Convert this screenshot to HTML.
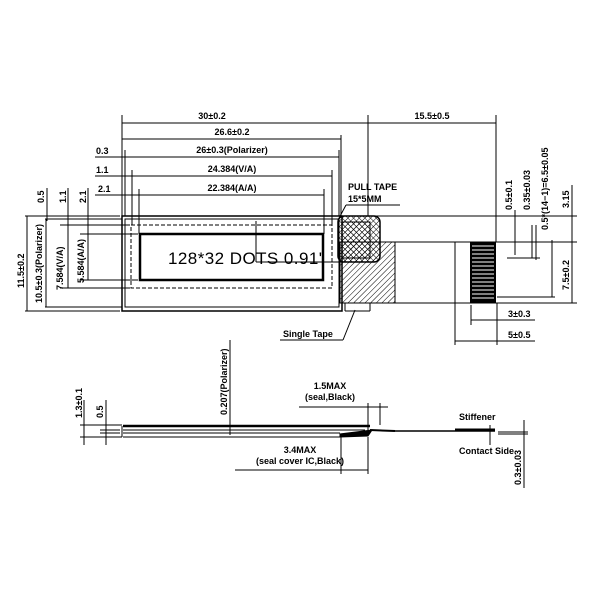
<!DOCTYPE html>
<html><head><style>body{margin:0;background:#fff}svg{display:block}text{font-family:"Liberation Sans",sans-serif;font-weight:bold;fill:#000}</style></head><body>
<svg width="600" height="600" viewBox="0 0 600 600" xmlns="http://www.w3.org/2000/svg">
<defs>
<pattern id="h1" width="4" height="4" patternUnits="userSpaceOnUse" patternTransform="rotate(45)"><line x1="0" y1="0" x2="0" y2="4" stroke="#000" stroke-width="1"/></pattern>
<pattern id="hx" width="4" height="4" patternUnits="userSpaceOnUse" patternTransform="rotate(45)"><path d="M0 0V4M0 0H4" stroke="#000" stroke-width="1"/></pattern>
</defs>
<g stroke="#000" fill="none" stroke-width="1">
<line x1="122" y1="123" x2="496" y2="123"/>
<line x1="122" y1="115" x2="122" y2="216"/><line x1="368" y1="115" x2="368" y2="216"/><line x1="496" y1="115" x2="496" y2="242"/>
<line x1="122" y1="139" x2="341" y2="139"/><line x1="341" y1="135" x2="341" y2="216"/>
<line x1="95" y1="157" x2="339" y2="157"/><line x1="125" y1="150" x2="125" y2="216"/><line x1="339" y1="150" x2="339" y2="216"/>
<line x1="95" y1="176" x2="332" y2="176"/><line x1="132" y1="170" x2="132" y2="225"/><line x1="332" y1="170" x2="332" y2="225"/>
<line x1="95" y1="195" x2="324" y2="195"/><line x1="139" y1="189" x2="139" y2="234"/><line x1="324" y1="189" x2="324" y2="234"/>
<line x1="25" y1="216" x2="120" y2="216"/><line x1="25" y1="311" x2="120" y2="311"/>
<line x1="45" y1="219" x2="122" y2="219"/><line x1="45" y1="307" x2="122" y2="307"/>
<line x1="60" y1="225" x2="130" y2="225"/><line x1="60" y1="288" x2="130" y2="288"/>
<line x1="80" y1="234" x2="138" y2="234"/><line x1="80" y1="280" x2="138" y2="280"/>
<line x1="27" y1="216" x2="27" y2="311"/><line x1="46" y1="219" x2="46" y2="307"/>
<line x1="68" y1="188" x2="68" y2="288"/><line x1="88" y1="188" x2="88" y2="280"/><line x1="47" y1="188" x2="47" y2="221"/>
<rect x="122" y="216" width="220" height="95" stroke-width="1.5"/>
<rect x="125" y="219" width="214" height="88"/>
<rect x="131" y="225" width="201" height="63" stroke-dasharray="4,2"/>
<rect x="140" y="234" width="183" height="46" stroke-width="2.5"/>
<line x1="256" y1="221" x2="256" y2="262"/><line x1="256" y1="262" x2="345" y2="262"/>
<rect x="340" y="242" width="55" height="61" fill="url(#h1)"/>
<rect x="338" y="216" width="42" height="46" rx="6" fill="url(#hx)" stroke-width="1.5"/>
<rect x="342" y="222" width="28" height="36" fill="url(#hx)"/>
<line x1="380" y1="242" x2="497" y2="242"/><line x1="380" y1="303" x2="497" y2="303"/>
<line x1="345" y1="303" x2="345" y2="311"/><line x1="370" y1="303" x2="370" y2="311"/><line x1="345" y1="311" x2="370" y2="311"/>
<line x1="455" y1="242" x2="455" y2="345"/>
<line x1="346" y1="205" x2="400" y2="205"/><line x1="346" y1="205" x2="338" y2="220"/>
<line x1="280" y1="340" x2="343" y2="340"/><line x1="343" y1="340" x2="355" y2="310"/>
<line x1="342" y1="216" x2="577" y2="216"/><line x1="497" y1="242" x2="577" y2="242"/>
<line x1="497" y1="303" x2="577" y2="303"/><line x1="497" y1="297" x2="555" y2="297"/>
<line x1="515" y1="210" x2="515" y2="255"/><line x1="532" y1="225" x2="532" y2="258"/><line x1="536" y1="225" x2="536" y2="260"/>
<line x1="552" y1="240" x2="552" y2="297"/><line x1="572" y1="185" x2="572" y2="303"/>
<line x1="507" y1="258" x2="540" y2="258"/>
<line x1="471" y1="305" x2="471" y2="325"/><line x1="471" y1="320" x2="535" y2="320"/>
<line x1="455" y1="341" x2="535" y2="341"/><line x1="497" y1="303" x2="497" y2="345"/>
<line x1="80" y1="425" x2="122" y2="425"/><line x1="80" y1="437" x2="122" y2="437"/>
<line x1="84" y1="400" x2="84" y2="445"/><line x1="106" y1="400" x2="106" y2="445"/>
<line x1="100" y1="430" x2="120" y2="430"/><line x1="100" y1="433" x2="120" y2="433"/>
<line x1="122" y1="426" x2="122" y2="437"/>
<line x1="123" y1="426" x2="370" y2="426" stroke-width="2.5"/>
<line x1="123" y1="430" x2="365" y2="430"/>
<line x1="123" y1="433" x2="340" y2="433"/>
<line x1="123" y1="437" x2="340" y2="437"/>
<path d="M340 437 L368 436 L372 430 L340 434Z" fill="#000"/>
<line x1="370" y1="430" x2="395" y2="431" stroke-width="2"/>
<line x1="395" y1="431" x2="495" y2="431" stroke-width="1.5"/>
<line x1="455" y1="430" x2="495" y2="430" stroke-width="3"/>
<line x1="490" y1="425" x2="490" y2="445"/>
<line x1="498" y1="432" x2="528" y2="432"/><line x1="498" y1="434" x2="528" y2="434"/>
<line x1="524" y1="420" x2="524" y2="488"/>
<line x1="230" y1="340" x2="230" y2="435"/>
<line x1="299" y1="407" x2="388" y2="407"/><line x1="368" y1="403" x2="368" y2="430"/><line x1="380" y1="403" x2="380" y2="425"/>
<line x1="235" y1="470" x2="368" y2="470"/><line x1="341" y1="437" x2="341" y2="474"/><line x1="368" y1="437" x2="368" y2="474"/>
</g>
<rect x="470" y="242" width="26" height="61" fill="#000"/>
<g stroke="#fff" stroke-width="1">
<line x1="472" y1="246" x2="494" y2="246"/><line x1="472" y1="250" x2="494" y2="250"/><line x1="472" y1="254" x2="494" y2="254"/><line x1="472" y1="258" x2="494" y2="258"/><line x1="472" y1="262" x2="494" y2="262"/><line x1="472" y1="266" x2="494" y2="266"/><line x1="472" y1="270" x2="494" y2="270"/><line x1="472" y1="274" x2="494" y2="274"/><line x1="472" y1="278" x2="494" y2="278"/><line x1="472" y1="282" x2="494" y2="282"/><line x1="472" y1="286" x2="494" y2="286"/><line x1="472" y1="290" x2="494" y2="290"/><line x1="472" y1="294" x2="494" y2="294"/><line x1="472" y1="298" x2="494" y2="298"/>
</g>
<g font-size="9">
<text x="212" y="119" text-anchor="middle">30±0.2</text>
<text x="432" y="119" text-anchor="middle">15.5±0.5</text>
<text x="232" y="135" text-anchor="middle">26.6±0.2</text>
<text x="232" y="153" text-anchor="middle">26±0.3(Polarizer)</text>
<text x="232" y="172" text-anchor="middle">24.384(V/A)</text>
<text x="232" y="191" text-anchor="middle">22.384(A/A)</text>
<text x="96" y="154">0.3</text><text x="96" y="173">1.1</text><text x="98" y="192">2.1</text>
<text transform="translate(44,203) rotate(-90)">0.5</text>
<text transform="translate(66,203) rotate(-90)">1.1</text>
<text transform="translate(86,203) rotate(-90)">2.1</text>
<text transform="translate(24,288) rotate(-90)">11.5±0.2</text>
<text transform="translate(42,303) rotate(-90)">10.5±0.3(Polarizer)</text>
<text transform="translate(63,290) rotate(-90)">7.584(V/A)</text>
<text transform="translate(84,283) rotate(-90)">5.584(A/A)</text>
<text x="348" y="190">PULL TAPE</text><text x="348" y="202">15*5MM</text>
<text x="283" y="337">Single Tape</text>
<text transform="translate(512,210) rotate(-90)">0.5±0.1</text>
<text transform="translate(530,210) rotate(-90)">0.35±0.03</text>
<text transform="translate(548,230) rotate(-90)">0.5*(14−1)=6.5±0.05</text>
<text transform="translate(569,208) rotate(-90)">3.15</text>
<text transform="translate(569,290) rotate(-90)">7.5±0.2</text>
<text x="508" y="317">3±0.3</text><text x="508" y="338">5±0.5</text>
<text transform="translate(82,418) rotate(-90)">1.3±0.1</text>
<text transform="translate(103,418) rotate(-90)">0.5</text>
<text transform="translate(227,415) rotate(-90)">0.207(Polarizer)</text>
<text x="330" y="389" text-anchor="middle">1.5MAX</text>
<text x="330" y="400" text-anchor="middle">(seal,Black)</text>
<text x="300" y="453" text-anchor="middle">3.4MAX</text>
<text x="300" y="464" text-anchor="middle">(seal cover IC,Black)</text>
<text x="459" y="420">Stiffener</text>
<text x="459" y="454">Contact Side</text>
<text transform="translate(521,485) rotate(-90)">0.3±0.03</text>
</g>
<text x="168" y="264" font-size="17" textLength="154" lengthAdjust="spacing" style="font-weight:normal">128*32 DOTS 0.91'</text>
</svg>
</body></html>
